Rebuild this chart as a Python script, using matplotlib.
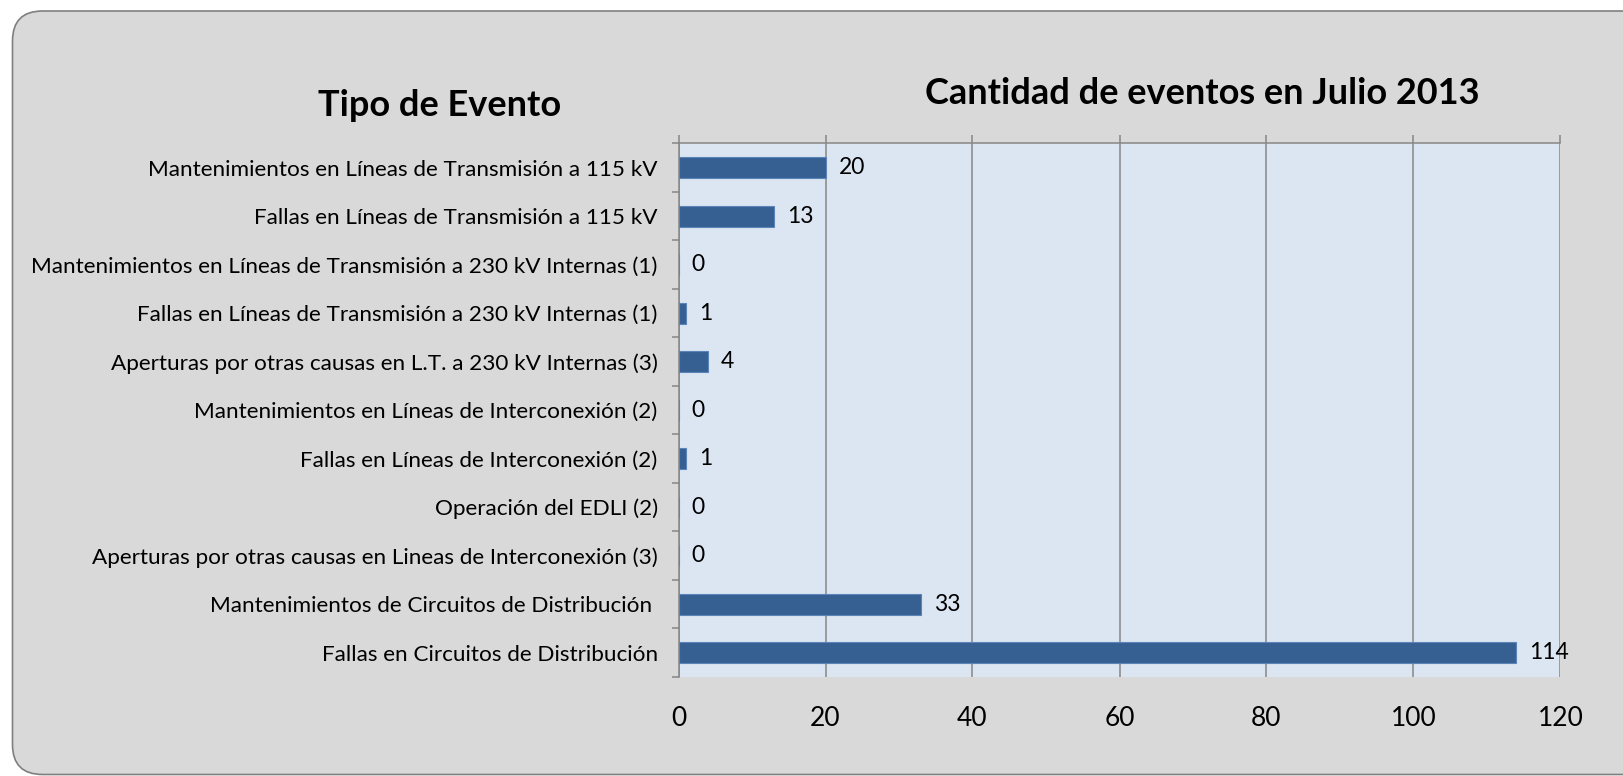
import numpy as np
import matplotlib
matplotlib.use('Agg')
import matplotlib.pyplot as plt
from matplotlib.patches import FancyBboxPatch
from matplotlib.ticker import FixedLocator

# data, top to bottom as shown
categories = [
    'Mantenimientos en Líneas de Transmisión a 115 kV',
    'Fallas en Líneas de Transmisión a 115 kV',
    'Mantenimientos en Líneas de Transmisión a 230 kV Internas (1)',
    'Fallas en Líneas de Transmisión a 230 kV Internas (1)',
    'Aperturas por otras causas en L.T. a 230 kV Internas (3)',
    'Mantenimientos en Líneas de Interconexión (2)',
    'Fallas en Líneas de Interconexión (2)',
    'Operación del EDLI (2)',
    'Aperturas por otras causas en Lineas de Interconexión (3)',
    'Mantenimientos de Circuitos de Distribución ',
    'Fallas en Circuitos de Distribución',
]
values = [20, 13, 0, 1, 4, 0, 1, 0, 0, 33, 114]
x_ticks = [0, 20, 40, 60, 80, 100, 120]

plt.rcParams['font.family'] = ['Lato', 'DejaVu Sans']

W, H = 1623, 776
fig = plt.figure(figsize=(W / 100, H / 100), dpi=100)
fig.patch.set_facecolor('white')

# rounded grey panel (runs off the right edge)
panel = FancyBboxPatch((0.125, 0.015), 16.4, 7.635,
                       boxstyle='round,pad=0,rounding_size=0.3',
                       transform=fig.dpi_scale_trans,
                       facecolor='#D9D9D9', edgecolor='#7F7F7F', linewidth=1.2,
                       zorder=-5)
fig.patches.append(panel)

ax = fig.add_axes([678.5 / W, 1 - 677 / H, 882 / W, (677 - 143.3) / H])
ax.set_facecolor('#DCE6F2')

y = np.arange(len(categories))
bars = ax.barh(y, values, height=0.43, color='#366092', edgecolor='#5B84B8',
               linewidth=0.8, zorder=3)

for yi, v in zip(y, values):
    ax.annotate(str(v), (v, yi), xytext=(9.5, 0), textcoords='offset points',
                ha='left', va='center', fontsize=16.5, color='black', zorder=4)

ax.set_ylim(len(categories) - 0.5, -0.5)
ax.set_xlim(0, 120)
ax.set_yticks(y)
ax.set_yticklabels(categories, fontsize=16.2)
ax.yaxis.set_minor_locator(FixedLocator(np.arange(-0.5, len(categories), 1)))
ax.tick_params(axis='y', which='major', length=0, pad=15)
ax.tick_params(axis='y', which='minor', length=5, width=1.1, color='#868686',
               direction='out')

ax.set_xticks(x_ticks)
ax.set_xticklabels([str(t) for t in x_ticks], fontsize=19)
ax.tick_params(axis='x', which='major', bottom=False, top=True, labelbottom=True,
               length=6, width=1.1, color='#868686', direction='out', pad=15)

ax.grid(axis='x', color='#868686', linewidth=1.1, zorder=1)
ax.set_axisbelow(True)

for s in ['bottom', 'right']:
    ax.spines[s].set_visible(False)
for s in ['left', 'top']:
    ax.spines[s].set_color('#868686')
    ax.spines[s].set_linewidth(1.1)

fig.text(440 / W, 1 - 106 / H, 'Tipo de Evento', fontsize=26, fontweight='bold',
         ha='center', va='center')
fig.text(1202 / W, 1 - 93 / H, 'Cantidad de eventos en Julio 2013', fontsize=26,
         fontweight='bold', ha='center', va='center')

fig.savefig('out.png', dpi=100, facecolor=fig.get_facecolor())
